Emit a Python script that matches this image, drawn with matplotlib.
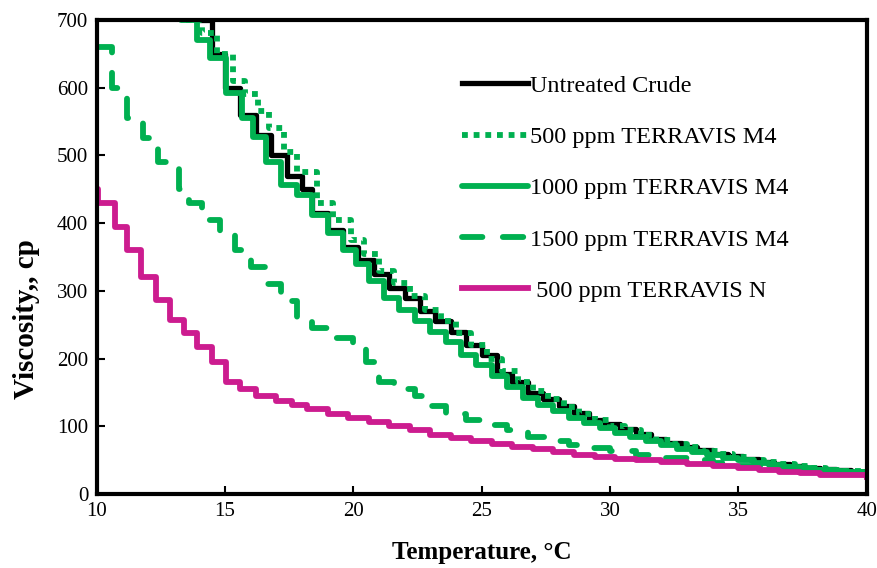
import matplotlib.pyplot as plt

plt.rcParams['font.family'] = ['Liberation Serif', 'DejaVu Serif']

# untreated crude
t_untreated = [13.9, 14.5, 15.0, 15.6, 16.2, 16.8, 17.4, 18.0, 18.4, 19.0, 19.6, 20.2,
               20.8, 21.4, 22.0, 22.6, 23.2, 23.8, 24.4, 25.0, 25.6, 26.2, 26.8, 27.4,
               28.0, 28.6, 29.2, 29.8, 30.4, 31.0, 31.6, 32.2, 32.8, 33.4, 34.0, 34.6,
               35.2, 35.8, 36.4, 37.0, 37.6, 38.2, 38.8, 39.4, 40.0]
v_untreated = [700, 650, 600, 560, 530, 500, 470, 450, 415, 390, 365, 345,
               325, 305, 290, 270, 255, 240, 220, 205, 178, 165, 150, 140,
               130, 120, 110, 103, 96, 89, 82, 76, 70, 65, 60, 56,
               52, 48, 45, 42, 39, 37, 35, 33, 31]

# 500 ppm TERRAVIS M4
t_m4_500 = [13.5, 14.1, 14.7, 15.3, 15.8, 16.3, 16.7, 17.3, 17.8, 18.6, 19.2, 19.9,
            20.4, 21.0, 21.6, 22.2, 22.8, 23.4, 24.0, 24.6, 25.2, 25.8, 26.4, 27.0,
            27.6, 28.2, 28.8, 29.4, 30.0, 30.6, 31.2, 31.8, 32.4, 33.0, 33.6, 34.2,
            34.8, 35.4, 36.0, 36.6, 37.2, 37.8, 38.4, 39.0, 40.0]
v_m4_500 = [700, 680, 650, 610, 590, 565, 540, 505, 475, 430, 405, 375,
            355, 330, 312, 292, 272, 255, 238, 220, 200, 182, 166, 152,
            140, 128, 118, 109, 101, 94, 87, 80, 74, 69, 64, 59,
            55, 51, 47, 44, 41, 38, 36, 34, 32]

# 1000 ppm TERRAVIS M4
t_m4_1000 = [13.3, 13.9, 14.4, 15.05, 15.65, 16.1, 16.6, 17.2, 17.8, 18.4, 19.0, 19.6,
             20.1, 20.6, 21.2, 21.8, 22.4, 23.0, 23.6, 24.2, 24.8, 25.4, 26.0, 26.6,
             27.2, 27.8, 28.4, 29.0, 29.6, 30.2, 30.8, 31.4, 32.0, 32.6, 33.2, 33.8,
             34.4, 35.0, 35.6, 36.2, 36.8, 37.4, 38.0, 38.6, 39.2, 40.0]
v_m4_1000 = [700, 670, 644, 592, 555, 527, 490, 456, 442, 412, 385, 360,
             340, 315, 290, 272, 255, 240, 225, 205, 190, 175, 158, 142,
             132, 122, 113, 105, 98, 90, 84, 78, 72, 67, 62, 58,
             54, 50, 46, 43, 40, 38, 36, 34, 33, 32]

# 1500 ppm TERRAVIS M4
t_m4_1500 = [10.0, 10.6, 11.2, 11.8, 12.4, 13.2, 13.6, 14.1, 14.8, 15.4, 16.0, 16.6,
             17.2, 17.8, 18.4, 19.2, 20.0, 20.5, 21.0, 21.6, 22.4, 23.0, 23.6, 24.4,
             25.2, 26.0, 26.8, 27.6, 28.4, 29.2, 30.0, 31.0, 32.0, 33.0, 34.0, 35.0,
             36.0, 37.0, 38.0, 39.0, 40.0]
v_m4_1500 = [660, 600, 555, 525, 490, 450, 430, 405, 385, 360, 335, 310,
             285, 260, 245, 230, 215, 195, 165, 155, 145, 130, 118, 110,
             102, 95, 85, 78, 72, 68, 63, 58, 54, 50, 46, 42,
             40, 38, 35, 33, 31]

# 500 ppm TERRAVIS N
t_n_500 = [10.0, 10.05, 10.7, 11.2, 11.75, 12.3, 12.85, 13.4, 13.9, 14.5, 15.05, 15.6,
           16.2, 17.0, 17.6, 18.2, 19.0, 19.8, 20.6, 21.4, 22.2, 23.0, 23.8, 24.6,
           25.4, 26.2, 27.0, 27.8, 28.6, 29.4, 30.2, 31.0, 32.0, 33.0, 34.0, 35.0,
           35.8, 36.6, 37.4, 38.2, 39.0, 40.0]
v_n_500 = [450, 430, 395, 360, 320, 287, 257, 238, 217, 195, 165, 155,
           145, 138, 132, 125, 118, 112, 106, 100, 94, 88, 83, 78,
           74, 70, 66, 62, 58, 55, 52, 50, 47, 44, 41, 38,
           36, 33, 31, 29, 28, 26]

green = "#00B050"
magenta = "#CC1C8F"

fig = plt.figure(figsize=(8.78, 5.68), dpi=100)
ax = fig.add_axes([0.110, 0.130, 0.877, 0.835])

ax.plot(t_untreated, v_untreated, drawstyle="steps-post", color="black", lw=3.8,
        label="Untreated Crude")
ax.plot(t_m4_500, v_m4_500, drawstyle="steps-post", color=green, lw=4.2, ls=(0, (1, 1)),
        label="500 ppm TERRAVIS M4")
ax.plot(t_m4_1000, v_m4_1000, drawstyle="steps-post", color=green, lw=4.2,
        solid_capstyle="round", label="1000 ppm TERRAVIS M4")
ax.plot(t_m4_1500, v_m4_1500, drawstyle="steps-post", color=green, lw=4.2,
        ls=(0, (3.5, 3.5)), dash_capstyle="round", label="1500 ppm TERRAVIS M4")
ax.plot(t_n_500, v_n_500, drawstyle="steps-post", color=magenta, lw=4.2,
        label=" 500 ppm TERRAVIS N")

ax.set_xlim(10, 40)
ax.set_ylim(0, 700)
ax.set_xticks([10, 15, 20, 25, 30, 35, 40])
ax.set_yticks(range(0, 701, 100))
ax.tick_params(direction="in", length=6, width=1.5, labelsize=15, pad=6)
for s in ax.spines.values():
    s.set_linewidth(3)

ax.set_xlabel("Temperature, °C", fontsize=18, fontweight="bold", labelpad=14)
ax.set_ylabel("Viscosity,, cp", fontsize=21, fontweight="bold")
ax.yaxis.set_label_coords(-0.074, 0.37)

ax.legend(loc="upper left", bbox_to_anchor=(0.446, 0.93), frameon=False,
          fontsize=17.5, handlelength=2.7, handletextpad=0.1, labelspacing=1.2)

plt.savefig("out.png", dpi=100)
